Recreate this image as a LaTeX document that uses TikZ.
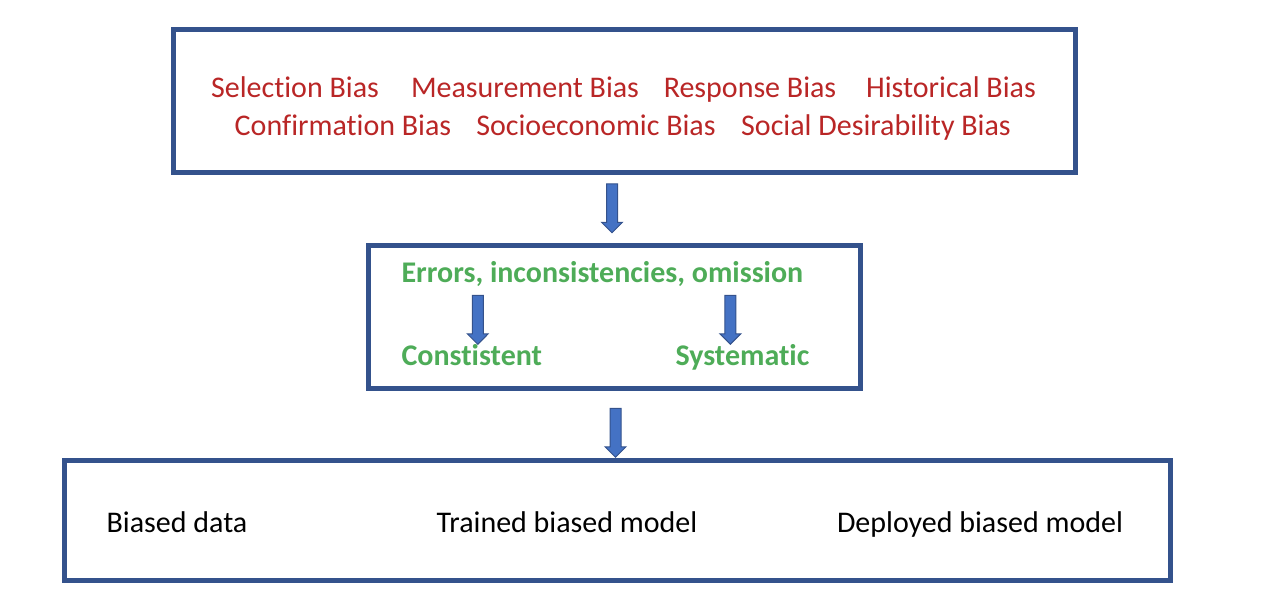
\documentclass[tikz,border=0pt]{standalone}
\usepackage{fontspec}
\setmainfont{Carlito}[Ligatures=NoCommon]
\usetikzlibrary{shapes.arrows}
\usetikzlibrary{calc}
\definecolor{bleucadre}{RGB}{52,82,140}
\definecolor{bleufleche}{RGB}{68,114,196}
\definecolor{rougebiais}{RGB}{185,38,38}
\definecolor{vertbiais}{RGB}{78,172,88}

\begin{document}
\begin{tikzpicture}[x=1pt,y=-1pt,
every node/.style={font=\fontsize{30}{36}\selectfont}]
\tikzstyle{cadre}=[draw=bleucadre,line width=5pt,inner sep=0pt]
\tikzset{fleche/.style={single arrow,draw=bleucadre,fill=bleufleche,line width=1pt,
minimum height=49pt,inner sep=5pt,single arrow head extend=5pt,shape border rotate=270},
biais/.style={text=rougebiais,anchor=base},
erreur/.style={text=vertbiais,font=\fontsize{30}{36}\selectfont\bfseries,anchor=base west},
modele/.style={text=black,anchor=base}}
\useasboundingbox (0,0) rectangle (1266,610);
% cadres
\node [cadre,minimum width=902pt,minimum height=142pt] (haut) at (624,101) {};
\node [cadre,minimum width=492pt,minimum height=143pt] (milieu) at (614,316.5) {};
\node [cadre,minimum width=1106pt,minimum height=120pt] (bas) at (617,520) {};
% biais
\node [biais] (selection) at (295,97) {Selection Bias};
\node [biais] (mesure) at (525,97) {Measurement Bias};
\node [biais] (reponse) at (750,97) {Response Bias};
\node [biais] (historique) at (951,97) {Historical Bias};
\node [biais] (confirmation) at (343,135) {Confirmation Bias};
\node [biais] (socio) at (596,135) {Socioeconomic Bias};
\node [biais] (desirabilite) at (876,135) {Social Desirability Bias};
% erreurs
\node [erreur] (erreurs) at (398,282) {Errors, inconsistencies, omission};
\node [erreur] (constant) at (398,365) {Constistent};
\node [erreur] (systematique) at (672,365) {Systematic};
% modeles
\node [modele] (donnees) at (177,532) {Biased data};
\node [modele] (entraine) at (567,532) {Trained biased model};
\node [modele] (deploye) at (980,532) {Deployed biased model};
% fleches
\node [fleche] (f1) at ($(haut.south)!0.5!(milieu.north)+(-7,-3)$) {};
\node [fleche] (f2) at ($(constant.north)!0.5!(constant.north |- erreurs.south)+(6,2)$) {};
\node [fleche] (f3) at ($(systematique.north)!0.5!(systematique.north |- erreurs.south)+(-12,2)$) {};
\node [fleche] (f4) at ($(milieu.south)!0.5!(bas.north)+(0,6)$) {};
\end{tikzpicture}
\end{document}
